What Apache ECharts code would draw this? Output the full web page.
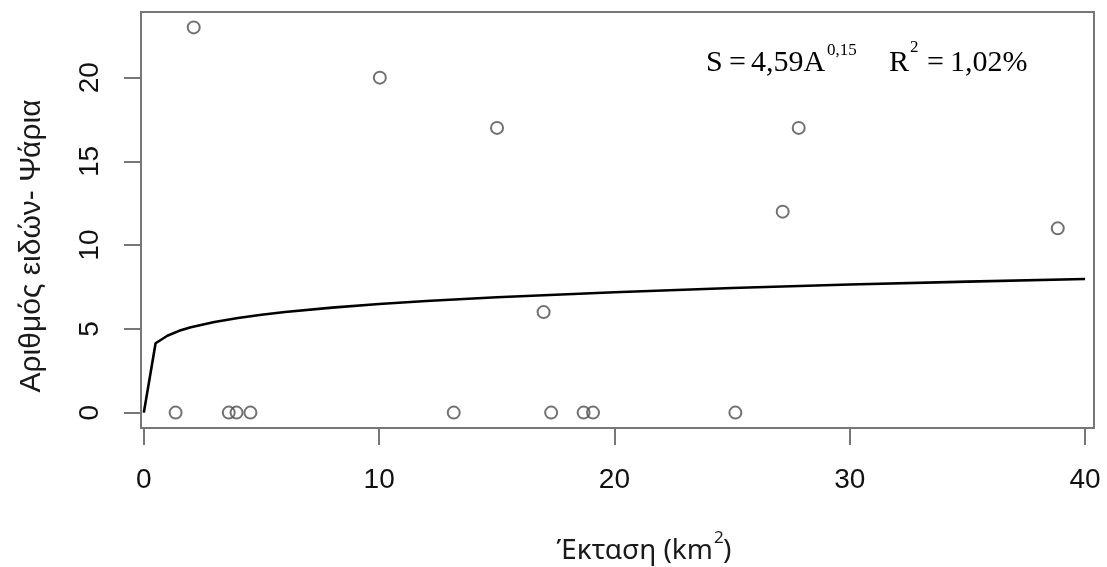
<!DOCTYPE html>
<html>
<head>
<meta charset="utf-8">
<script src="https://cdn.jsdelivr.net/npm/echarts@6/dist/echarts.min.js"></script>
<style>
  html, body { margin: 0; padding: 0; background: #fff; }
  #chart { width: 1107px; height: 567px; }
</style>
</head>
<body>
<div id="chart"></div>
<script>
// Observed sites: area (km²) and number of fish species
const areaKm2 = [1.35, 2.12, 3.61, 3.94, 4.53, 10.03, 13.17, 15.01, 16.99, 17.31, 18.69, 19.09, 25.14, 27.15, 27.83, 38.84];
const speciesCount = [0, 23, 0, 0, 0, 20, 0, 17, 6, 0, 0, 0, 0, 12, 17, 11];

// Fitted species–area curve S = 4,59·A^0,15, sampled along the area axis
const curveArea = [0, 0.5, 1, 1.5, 2, 3, 4, 5, 6, 8, 10, 12, 15, 20, 25, 30, 35, 40];
const curveS = [0, 4.14, 4.59, 4.88, 5.09, 5.41, 5.65, 5.84, 6.01, 6.27, 6.48, 6.66, 6.89, 7.19, 7.44, 7.65, 7.82, 7.98];

// Tick positions
const xTicks = [0, 10, 20, 30, 40];
const yTicks = [0, 5, 10, 15, 20];

const points = areaKm2.map((a, i) => [a, speciesCount[i]]);
const curve = curveArea.map((a, i) => [a, curveS[i]]);

const boxColor = '#777';
const tickFont = { fontFamily: 'Liberation Sans', fontSize: 28, color: '#111' };

const chart = echarts.init(document.getElementById('chart'), null, { renderer: 'canvas' });

chart.setOption({
  animation: false,
  backgroundColor: '#fff',
  grid: {
    left: 141, right: 13, top: 12, bottom: 139,
    show: true, borderColor: boxColor, borderWidth: 2, backgroundColor: 'transparent'
  },
  xAxis: {
    type: 'value',
    min: -0.12, max: 40.38,
    axisLine: { show: false, onZero: false },
    splitLine: { show: false },
    axisTick: { show: true, inside: false, length: 17, customValues: xTicks,
                lineStyle: { color: boxColor, width: 2 } },
    axisLabel: Object.assign({ margin: 38, customValues: xTicks }, tickFont)
  },
  yAxis: {
    type: 'value',
    min: -0.92, max: 23.92,
    axisLine: { show: false, onZero: false },
    splitLine: { show: false },
    axisTick: { show: true, inside: false, length: 17, customValues: yTicks,
                lineStyle: { color: boxColor, width: 2 } },
    axisLabel: Object.assign({ margin: 37, rotate: 90, customValues: yTicks }, tickFont)
  },
  series: [
    {
      type: 'line',
      data: curve,
      showSymbol: false,
      smooth: false,
      lineStyle: { color: '#000', width: 2.6 },
      z: 2
    },
    {
      type: 'scatter',
      data: points,
      symbol: 'circle',
      symbolSize: 12,
      itemStyle: { color: 'rgba(0,0,0,0)', borderColor: '#4d4d4d', borderWidth: 2 },
      z: 3
    }
  ],
  graphic: [
    // y-axis title
    {
      type: 'text', x: 32, y: 246, rotation: Math.PI / 2,
      style: { text: 'Αριθμός ειδών- Ψάρια', fontFamily: 'Liberation Sans', fontSize: 30,
               fill: '#1a1a1a', align: 'center', verticalAlign: 'middle' }
    },
    // x-axis title
    { type: 'text', x: 713, y: 551, style: { text: 'Έκταση (km', fontFamily: 'Noto Sans', fontSize: 28, fill: '#1a1a1a', align: 'right', verticalAlign: 'middle' } },
    { type: 'text', x: 714, y: 538, style: { text: '2', fontFamily: 'Noto Sans', fontSize: 17, fill: '#1a1a1a', align: 'left', verticalAlign: 'middle' } },
    { type: 'text', x: 723, y: 551, style: { text: ')', fontFamily: 'Noto Sans', fontSize: 28, fill: '#1a1a1a', align: 'left', verticalAlign: 'middle' } },
    // model equation
    { type: 'text', x: 706, y: 63, style: { text: 'S', fontFamily: 'Liberation Serif', fontSize: 30, fill: '#000', align: 'left', verticalAlign: 'middle' } },
    { type: 'text', x: 729, y: 63, style: { text: '=', fontFamily: 'Liberation Serif', fontSize: 30, fill: '#000', align: 'left', verticalAlign: 'middle' } },
    { type: 'text', x: 751, y: 63, style: { text: '4,59A', fontFamily: 'Liberation Serif', fontSize: 30, fill: '#000', align: 'left', verticalAlign: 'middle' } },
    { type: 'text', x: 827, y: 51, style: { text: '0,15', fontFamily: 'Liberation Serif', fontSize: 17, fill: '#000', align: 'left', verticalAlign: 'middle' } },
    { type: 'text', x: 889, y: 63, style: { text: 'R', fontFamily: 'Liberation Serif', fontSize: 30, fill: '#000', align: 'left', verticalAlign: 'middle' } },
    { type: 'text', x: 910, y: 48, style: { text: '2', fontFamily: 'Liberation Serif', fontSize: 17, fill: '#000', align: 'left', verticalAlign: 'middle' } },
    { type: 'text', x: 927, y: 63, style: { text: '=', fontFamily: 'Liberation Serif', fontSize: 30, fill: '#000', align: 'left', verticalAlign: 'middle' } },
    { type: 'text', x: 950, y: 63, style: { text: '1,02%', fontFamily: 'Liberation Serif', fontSize: 30, fill: '#000', align: 'left', verticalAlign: 'middle' } }
  ]
});
</script>
</body>
</html>
